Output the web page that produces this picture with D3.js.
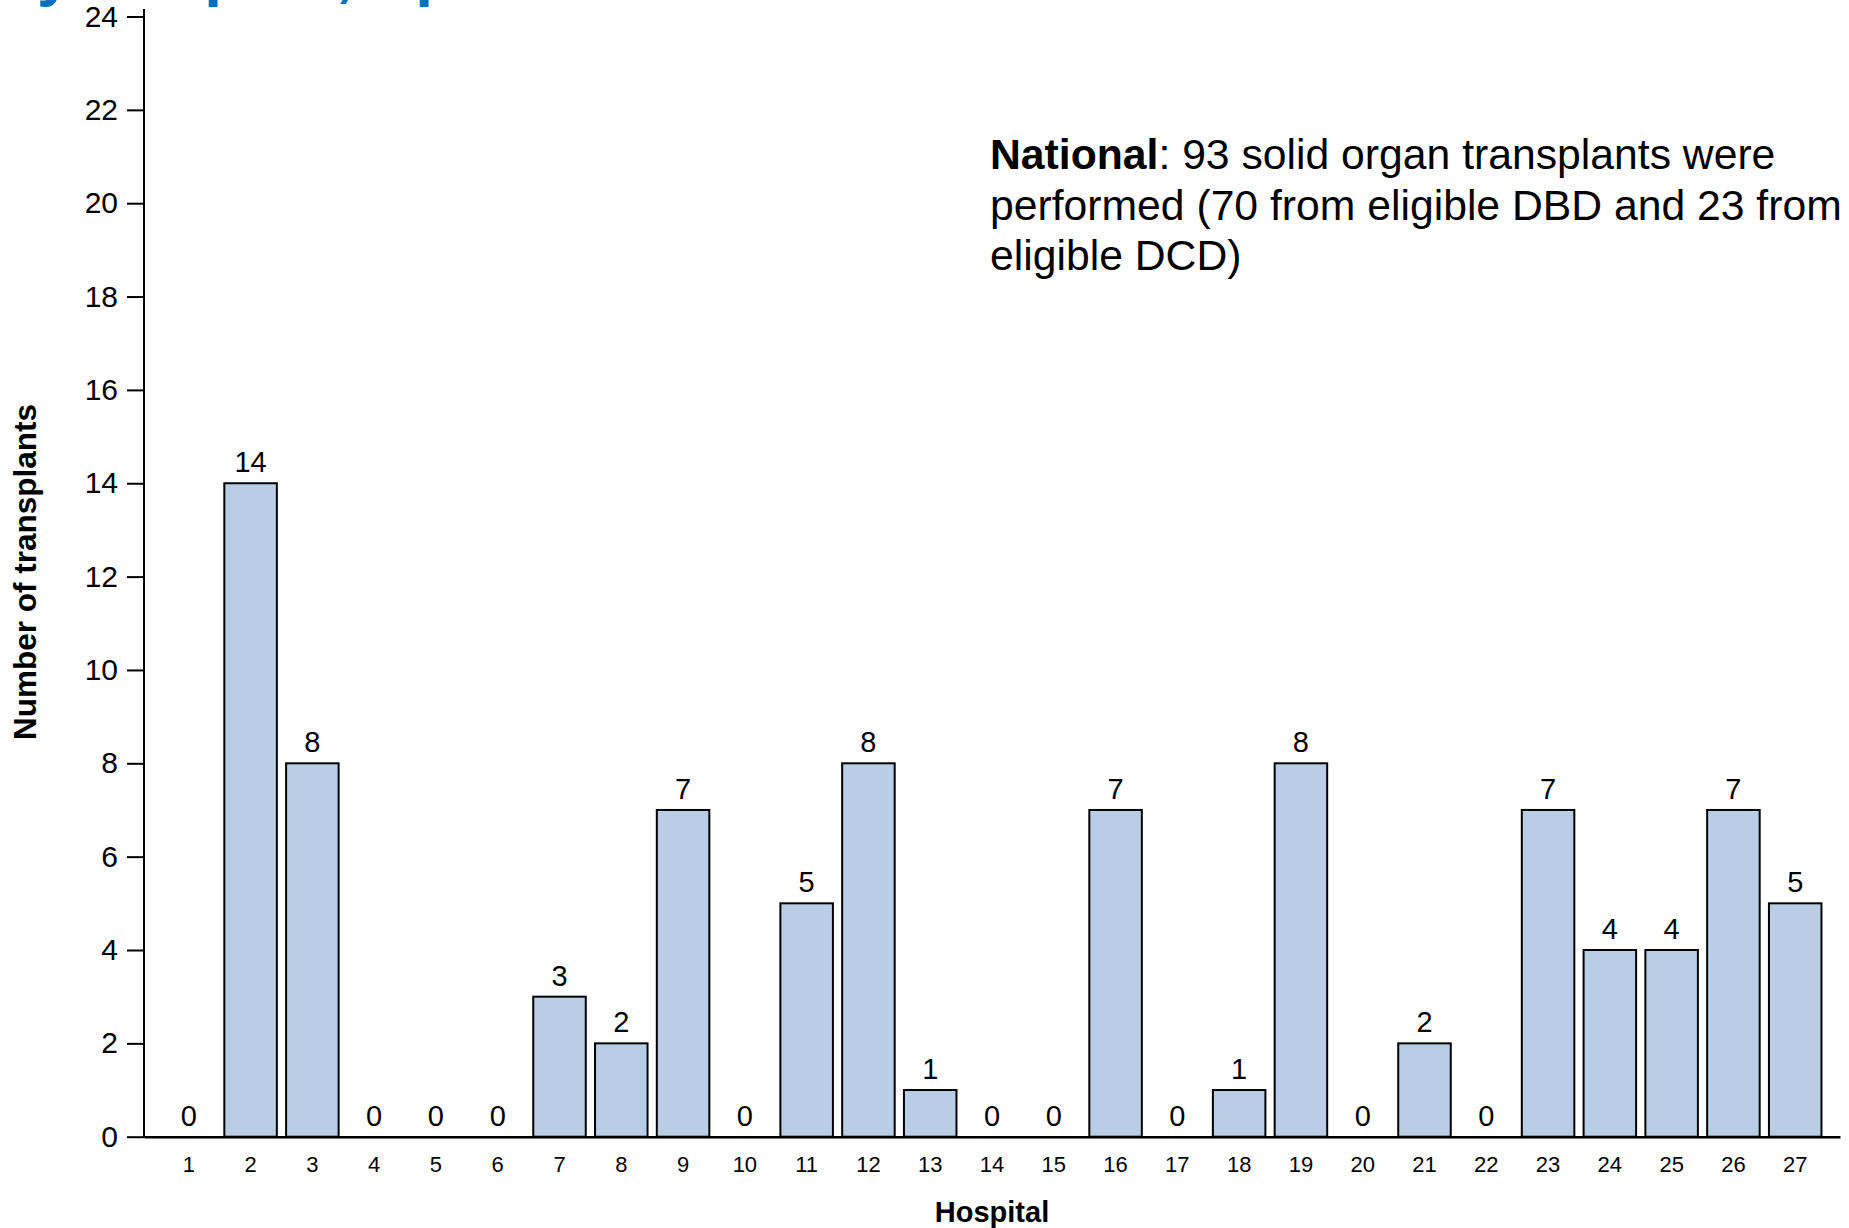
<!DOCTYPE html>
<html>
<head>
<meta charset="utf-8">
<script src="https://cdn.jsdelivr.net/npm/d3@7"></script>
<style>
  html, body { margin: 0; padding: 0; background: #fff; }
  svg { display: block; }
  text { font-family: "Liberation Sans", Arial, sans-serif; }
</style>
</head>
<body>
<svg id="chart" width="1849" height="1228"></svg>
<script>
const hospitals = ["1","2","3","4","5","6","7","8","9","10","11","12","13","14","15","16","17","18","19","20","21","22","23","24","25","26","27"];
const transplants = [0,14,8,0,0,0,3,2,7,0,5,8,1,0,0,7,0,1,8,0,2,0,7,4,4,7,5];
const yTicks = [0,2,4,6,8,10,12,14,16,18,20,22,24];
const titleText = "by hospital, April";
const noteBold = "National";
const noteLines = [": 93 solid organ transplants were", "performed (70 from eligible DBD and 23 from", "eligible DCD)"];
const xTitle = "Hospital";
const yTitle = "Number of transplants";

(function () {
const svg = d3.select("#chart");
const mLeft = 144, mRight = 1840, mBottom = 1136.7, mTop = 16.5;

const x = d3.scaleBand().domain(hospitals).range([mLeft, mRight]).paddingInner(0.15).paddingOuter(0.3);
const y = d3.scaleLinear().domain([0, 24]).range([mBottom, mTop]);

// title (clipped by the top edge, as in the source)
svg.append("text").attr("x", -2).attr("y", -6)
  .attr("font-size", 64).attr("font-weight", "bold").attr("fill", "#0070C0")
  .text(titleText);

// bars
svg.append("g").selectAll("rect").data(transplants).join("rect")
  .attr("x", (d, i) => x(hospitals[i]))
  .attr("y", d => y(d))
  .attr("width", x.bandwidth())
  .attr("height", d => y(0) - y(d))
  .attr("fill", "#B9CEE6")
  .attr("stroke", "#000")
  .attr("stroke-width", 2);

// value labels
svg.append("g").selectAll("text").data(transplants).join("text")
  .attr("x", (d, i) => x(hospitals[i]) + x.bandwidth() / 2)
  .attr("y", d => y(d) - 11)
  .attr("text-anchor", "middle")
  .attr("font-size", 29)
  .attr("fill", "#000")
  .text(d => d);

// y axis
const yAxis = d3.axisLeft(y).tickValues(yTicks).tickSize(17).tickPadding(9).tickSizeOuter(0);
const gy = svg.append("g").attr("transform", `translate(${mLeft},0)`).call(yAxis);
gy.select(".domain").remove();
gy.selectAll(".tick line").attr("stroke", "#000").attr("stroke-width", 2);
gy.selectAll(".tick text").attr("font-size", 30).attr("font-family", "Liberation Sans, Arial, sans-serif").attr("fill", "#000");
svg.append("line").attr("x1", mLeft).attr("x2", mLeft).attr("y1", 9).attr("y2", mBottom + 1)
  .attr("stroke", "#000").attr("stroke-width", 2);

// x axis
const xAxis = d3.axisBottom(x).tickSize(0).tickPadding(20).tickSizeOuter(0);
const gx = svg.append("g").attr("transform", `translate(0,${mBottom})`).call(xAxis);
gx.select(".domain").attr("stroke", "#000").attr("stroke-width", 2.5);
gx.selectAll(".tick text").attr("font-size", 22).attr("font-family", "Liberation Sans, Arial, sans-serif").attr("fill", "#000");

// axis titles
svg.append("text").attr("x", (mLeft + mRight) / 2).attr("y", 1222)
  .attr("text-anchor", "middle").attr("font-size", 29).attr("font-weight", "bold").text(xTitle);
svg.append("text").attr("transform", `translate(36,572) rotate(-90)`)
  .attr("text-anchor", "middle").attr("font-size", 31.5).attr("font-weight", "bold").text(yTitle);

// annotation
const note = svg.append("g").attr("font-size", 42.7).attr("fill", "#000");
const baselines = [169, 220, 270];
noteLines.forEach((line, i) => {
  const t = note.append("text").attr("x", 990).attr("y", baselines[i]);
  if (i === 0) t.append("tspan").attr("font-weight", "bold").text(noteBold);
  t.append("tspan").text(line);
});
})();
</script>
</body>
</html>
